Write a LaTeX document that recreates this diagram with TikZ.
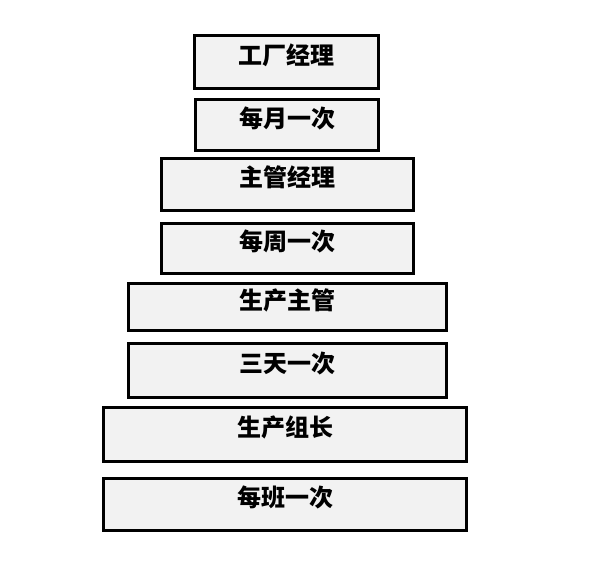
\documentclass[tikz,border=0pt]{standalone}
\usepackage{fontspec}
\newfontfamily\cjk{Noto Sans CJK SC}
\usepackage{xcolor}
\usepackage{tikz}
\usetikzlibrary{positioning}
\definecolor{TierFill}{HTML}{F2F2F2}

\begin{document}
\begin{tikzpicture}[x=1pt,y=-1pt,
  every node/.style={font=\cjk\bfseries\fontsize{24}{27}\selectfont,inner sep=0pt},
  tier/.style={draw=black,line width=2.8pt,fill=TierFill,text height=20pt,text depth=16pt}]
\useasboundingbox (0,0) rectangle (594,578);

% top to bottom: who reports, then how often
\node[tier,minimum width=184pt,minimum height=53pt] (plantmgr) at (286.5,62) {工厂经理};
\node[tier,minimum width=183pt,minimum height=51pt] (monthly) at (287,125) {每月一次};
\node[tier,minimum width=252pt,minimum height=52pt] (supmgr) at (287.5,184.5) {主管经理};
\node[tier,minimum width=252pt,minimum height=50pt] (weekly) at (287.5,248.5) {每周一次};
\node[tier,minimum width=318pt,minimum height=47pt] (prodsup) at (287.5,307) {生产主管};
\node[tier,minimum width=318pt,minimum height=54pt] (threeday) at (287.5,370.5) {三天一次};
\node[tier,minimum width=363pt,minimum height=54pt] (leader) at (285,434.5) {生产组长};
\node[tier,minimum width=363pt,minimum height=52pt] (pershift) at (285,504.5) {每班一次};
\end{tikzpicture}
\end{document}
